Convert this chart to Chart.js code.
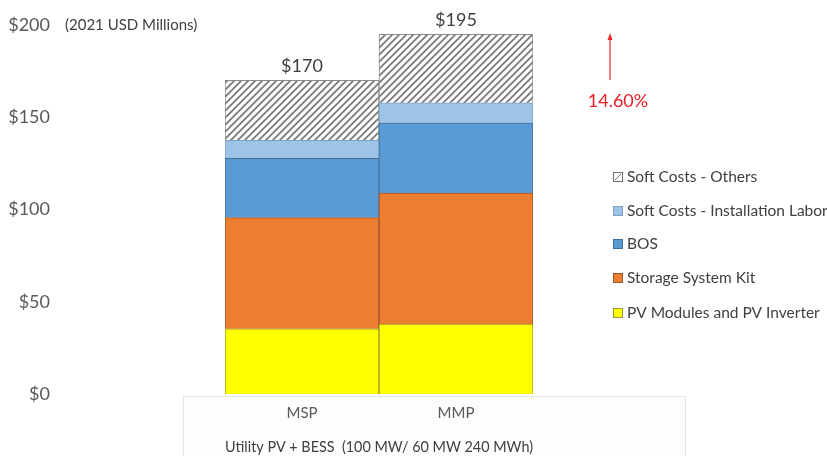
<!DOCTYPE html>
<html><head><meta charset="utf-8">
<script src="https://cdn.jsdelivr.net/npm/chart.js@4"></script>
<style>html,body{margin:0;padding:0;background:#fff}#wrap{width:827px;height:456px;position:relative}</style>
</head><body><div id="wrap"><canvas id="c" width="827" height="456"></canvas></div>
<script>
const categories = ["MSP", "MMP"];
const pvModules = [35.3, 37.9];
const storageKit = [60.3, 71.0];
const bos = [32.1, 38.0];
const installLabor = [9.8, 10.9];
const softOthers = [32.5, 37.2];
const totals = ["$170", "$195"];
const seriesNames = ["PV Modules and PV Inverter", "Storage System Kit", "BOS", "Soft Costs - Installation Labor", "Soft Costs - Others"];
const yTicks = [0, 50, 100, 150, 200];
const unitLabel = "(2021 USD Millions)";
const xTitle = "Utility PV + BESS  (100 MW/ 60 MW 240 MWh)";
const changeLabel = "14.60%";

const FONT = "Lato, 'Open Sans', sans-serif";

function hatch() {
  const n = 7;
  const p = document.createElement('canvas');
  p.width = n; p.height = n;
  const g = p.getContext('2d');
  g.fillStyle = '#fff'; g.fillRect(0,0,n,n);
  g.strokeStyle = '#7a7a7a'; g.lineWidth = 1.8;
  g.beginPath();
  g.moveTo(0,n); g.lineTo(n,0);
  g.moveTo(-n/2,n/2); g.lineTo(n/2,-n/2);
  g.moveTo(n/2,n*1.5); g.lineTo(n*1.5,n/2);
  g.stroke();
  return document.getElementById('c').getContext('2d').createPattern(p,'repeat');
}
const hatchPat = hatch();

const fills = ['#FFFF00', '#ED7D31', '#5B9BD5', '#9DC3E6', hatchPat];
const borders = ['#9c9430', '#a0552a', '#41719c', '#7fa3c4', '#8a8a8a'];
const legendSwatch = ['#FFFF00', '#ED7D31', '#5B9BD5', '#9DC3E6', null];
const values = [pvModules, storageKit, bos, installLabor, softOthers];

const bgBox = {
  id: 'bgBox',
  beforeDraw(chart) {
    const ctx = chart.ctx;
    ctx.save();
    ctx.fillStyle = '#fdfdfd';
    ctx.fillRect(183, 396, 502, 62);
    ctx.strokeStyle = '#e4e4e4';
    ctx.lineWidth = 1;
    ctx.strokeRect(183.5, 396.5, 502, 62);
    ctx.restore();
  }
};

const extras = {
  id: 'extras',
  afterDraw(chart) {
    const ctx = chart.ctx;
    const x = chart.scales.x, y = chart.scales.y;
    ctx.save();
    ctx.fillStyle = '#404040';
    ctx.font = '15px ' + FONT;
    ctx.textAlign = 'left'; ctx.textBaseline = 'middle';
    ctx.fillText(unitLabel, 65, y.getPixelForValue(200));
    ctx.font = '18px ' + FONT;
    ctx.textAlign = 'center'; ctx.textBaseline = 'bottom';
    categories.forEach((c, i) => {
      let s = 0; values.forEach(v => s += v[i]);
      ctx.fillText(totals[i], x.getPixelForValue(i), y.getPixelForValue(s) - 5);
    });
    ctx.strokeStyle = '#f0282d'; ctx.fillStyle = '#f0282d'; ctx.lineWidth = 1.2;
    ctx.beginPath(); ctx.moveTo(610, 80); ctx.lineTo(610, 38); ctx.stroke();
    ctx.beginPath(); ctx.moveTo(610, 33); ctx.lineTo(607.5, 40); ctx.lineTo(612.5, 40); ctx.closePath(); ctx.fill();
    ctx.font = '18px ' + FONT;
    ctx.textAlign = 'center'; ctx.textBaseline = 'middle';
    ctx.fillStyle = '#ee1c24';
    ctx.fillText(changeLabel, 618, 101);
    const ys = [177, 211, 244, 278, 313];
    ctx.font = '15.5px ' + FONT;
    ctx.textAlign = 'left'; ctx.textBaseline = 'middle';
    for (let k = 0; k < 5; k++) {
      const di = 4 - k;
      const yy = ys[k];
      const bx = 613, by = yy - 5;
      if (legendSwatch[di]) {
        ctx.fillStyle = legendSwatch[di];
        ctx.fillRect(bx, by, 10, 10);
        ctx.strokeStyle = borders[di]; ctx.lineWidth = 1;
        ctx.strokeRect(bx + 0.5, by + 0.5, 9, 9);
      } else {
        ctx.fillStyle = '#fff'; ctx.fillRect(bx, by, 10, 10);
        ctx.strokeStyle = '#707070'; ctx.lineWidth = 1;
        ctx.strokeRect(bx + 0.5, by + 0.5, 9, 9);
        ctx.beginPath(); ctx.moveTo(bx + 2, by + 8); ctx.lineTo(bx + 8, by + 2); ctx.stroke();
      }
      ctx.fillStyle = '#404040';
      ctx.fillText(chart.data.datasets[di].label, 627, yy);
    }
    ctx.restore();
  }
};

new Chart(document.getElementById('c'), {
  type: 'bar',
  data: {
    labels: categories,
    datasets: values.map((v, i) => ({
      label: seriesNames[i],
      data: v,
      backgroundColor: fills[i],
      borderColor: borders[i],
      borderWidth: 1,
      barPercentage: 1,
      categoryPercentage: 1
    }))
  },
  options: {
    responsive: false,
    animation: false,
    layout: { padding: { left: 0, right: 294, top: 25, bottom: 0 } },
    plugins: { legend: { display: false }, tooltip: { enabled: false } },
    scales: {
      x: {
        stacked: true,
        grid: { display: false, drawTicks: false },
        border: { display: false },
        ticks: { color: '#595959', font: { family: FONT, size: 15 }, padding: 10 },
        title: { display: true, text: xTitle, color: '#404040', font: { family: FONT, size: 15 }, padding: { top: 6, bottom: 0 } }
      },
      y: {
        stacked: true,
        min: 0, max: 200,
        afterBuildTicks(s) { s.ticks = yTicks.map(v => ({ value: v })); },
        afterFit(s) { s.width = 225; s.paddingTop = 0; s.paddingBottom = 0; },
        grid: { display: false, drawTicks: false },
        border: { display: false },
        ticks: { color: '#595959', font: { family: FONT, size: 18 }, padding: 175, callback: v => '$' + v }
      }
    }
  },
  plugins: [bgBox, extras]
});
</script></body></html>
